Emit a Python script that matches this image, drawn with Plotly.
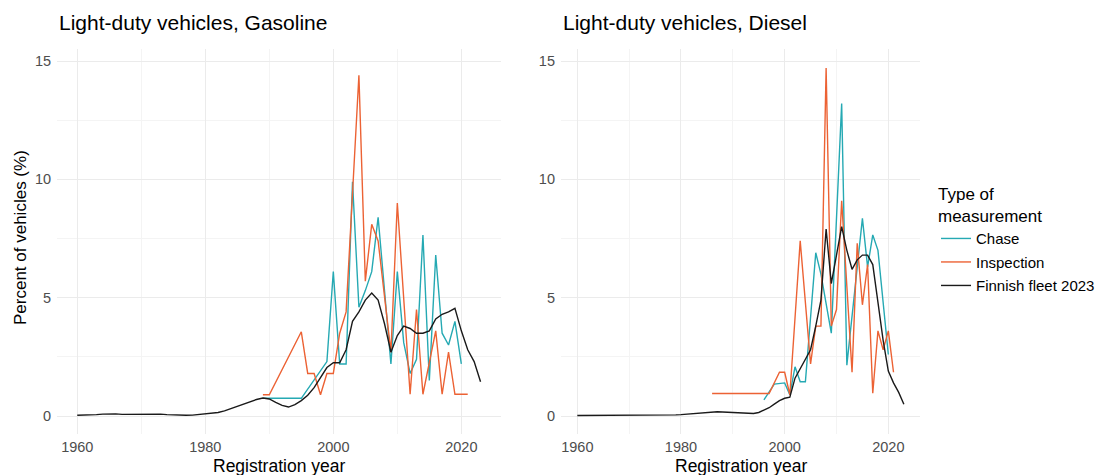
import plotly.graph_objects as go

# ---------------- data ----------------
fleet_years = list(range(1960, 2024))
gas_fleet = [0.03, 0.03, 0.04, 0.06, 0.08, 0.10, 0.09, 0.07, 0.07, 0.09,
             0.10, 0.09, 0.09, 0.08, 0.06, 0.04, 0.03, 0.03, 0.04, 0.06,
             0.08, 0.10, 0.15, 0.22, 0.32, 0.42, 0.52, 0.60, 0.70, 0.76,
             0.72, 0.58, 0.45, 0.38, 0.48, 0.65, 0.88, 1.20, 1.60, 2.05,
             2.25, 2.25, 2.80, 4.00, 4.40, 4.90, 5.20, 4.90, 3.90, 2.70,
             3.40, 3.80, 3.70, 3.50, 3.50, 3.60, 4.10, 4.30, 4.40, 4.55,
             3.60, 2.80, 2.30, 1.45]
dsl_fleet = [0.02, 0.02, 0.02, 0.02, 0.02, 0.02, 0.02, 0.02, 0.02, 0.02,
             0.02, 0.02, 0.02, 0.02, 0.03, 0.03, 0.03, 0.03, 0.04, 0.05,
             0.06, 0.08, 0.10, 0.12, 0.14, 0.16, 0.17, 0.18, 0.17, 0.16,
             0.14, 0.12, 0.10, 0.10, 0.11, 0.15, 0.25, 0.35, 0.50, 0.65,
             0.75, 0.80, 1.60, 2.00, 2.40, 2.80, 3.80, 4.90, 7.90, 5.60,
             6.80, 8.00, 7.00, 6.20, 6.60, 6.80, 6.80, 6.40, 4.80, 3.20,
             1.90, 1.40, 1.00, 0.50]

gas_chase_years = [1989, 1995, 1999, 2000, 2001, 2002, 2003, 2004, 2005, 2006, 2007,
                   2009, 2010, 2011, 2012, 2013, 2014, 2015, 2016, 2017, 2018, 2019, 2020]
gas_chase = [0.75, 0.75, 2.3, 6.1, 2.2, 2.2, 9.9, 4.6, 5.3, 6.1, 8.4,
             2.2, 6.1, 3.1, 1.8, 2.4, 7.65, 1.5, 6.8, 3.5, 3.0, 4.0, 2.2]

gas_insp_years = [1989, 1990, 1995, 1996, 1997, 1998, 1999, 2000, 2001, 2002, 2004, 2005,
                  2006, 2007, 2009, 2010, 2012, 2013, 2014, 2016, 2017, 2018, 2019, 2020, 2021]
gas_insp = [0.9, 0.9, 3.56, 1.8, 1.8, 0.9, 1.8, 1.8, 3.5, 4.4, 14.4, 5.7,
            8.1, 7.4, 2.7, 9.0, 0.92, 4.5, 0.92, 3.6, 0.92, 2.7, 0.92, 0.92, 0.92]

dsl_chase_years = [1996, 1998, 2000, 2001, 2002, 2003, 2004, 2006, 2007, 2009, 2011,
                   2012, 2015, 2016, 2017, 2018, 2020]
dsl_chase = [0.68, 1.35, 1.4, 0.9, 2.08, 1.45, 1.45, 6.9, 6.0, 3.5, 13.2,
             2.15, 8.35, 6.3, 7.65, 7.0, 2.6]

dsl_insp_years = [1986, 1997, 1999, 2000, 2001, 2003, 2005, 2006, 2007, 2008, 2009, 2010,
                  2011, 2013, 2014, 2015, 2016, 2017, 2018, 2019, 2020, 2021]
dsl_insp = [0.95, 0.95, 1.85, 1.85, 0.9, 7.4, 2.2, 3.8, 3.8, 14.7, 3.8, 4.5,
            9.1, 1.85, 7.3, 4.7, 6.4, 0.96, 3.6, 2.8, 3.6, 1.85]

panel_titles = ["Light-duty vehicles, Gasoline", "Light-duty vehicles, Diesel"]
series_names = ["Chase", "Inspection", "Finnish fleet 2023"]
x_ticks = [1960, 1980, 2000, 2020]
y_ticks = [0, 5, 10, 15]

# ---------------- style ----------------
TEAL = "#25A9B3"
ORANGE = "#EC6234"
BLACK = "#1A1A1A"
FONT = "Liberation Sans, Arial, sans-serif"
W, H = 1102, 475

fig = go.Figure()

panels = [
    ("x", "y", (gas_chase_years, gas_chase), (gas_insp_years, gas_insp), gas_fleet, True),
    ("x2", "y2", (dsl_chase_years, dsl_chase), (dsl_insp_years, dsl_insp), dsl_fleet, False),
]
for xa, ya, ch, ins, fl, show in panels:
    fig.add_trace(go.Scatter(x=ch[0], y=ch[1], mode="lines", name=series_names[0],
                             line=dict(color=TEAL, width=1.4), xaxis=xa, yaxis=ya,
                             showlegend=show, legendgroup="a"))
    fig.add_trace(go.Scatter(x=ins[0], y=ins[1], mode="lines", name=series_names[1],
                             line=dict(color=ORANGE, width=1.4), xaxis=xa, yaxis=ya,
                             showlegend=show, legendgroup="b"))
    fig.add_trace(go.Scatter(x=fleet_years, y=fl, mode="lines", name=series_names[2],
                             line=dict(color=BLACK, width=1.4), xaxis=xa, yaxis=ya,
                             showlegend=show, legendgroup="c"))

xr = [1956.85, 2026.15]
yr = [-0.738, 15.5]
ydom = [(H - 433.5) / H, (H - 49.2) / H]
xdom1 = [57.1 / W, 500.7 / W]
xdom2 = [561.0 / W, 920.2 / W]

common_x = dict(range=xr, tickvals=x_ticks, showgrid=True, gridcolor="#EBEBEB", gridwidth=1,
                zeroline=False, showline=False, ticks="", automargin=False,
                tickfont=dict(family=FONT, size=14.5, color="#4D4D4D"),
                minor=dict(tickvals=[1970, 1990, 2010], showgrid=True, gridcolor="#F4F4F4",
                           gridwidth=1),
                ticklabelstandoff=3)
common_y = dict(range=yr, tickvals=y_ticks, showgrid=True, gridcolor="#EBEBEB", gridwidth=1,
                zeroline=False, showline=False, ticks="", automargin=False,
                tickfont=dict(family=FONT, size=14.5, color="#4D4D4D"),
                minor=dict(tickvals=[2.5, 7.5, 12.5], showgrid=True, gridcolor="#F4F4F4",
                           gridwidth=1),
                ticklabelstandoff=5)

fig.update_layout(
    width=W, height=H,
    margin=dict(l=0, r=0, t=0, b=0),
    paper_bgcolor="white", plot_bgcolor="white",
    font=dict(family=FONT, color="black"),
    xaxis=dict(domain=xdom1, anchor="y", **common_x),
    yaxis=dict(domain=ydom, anchor="x", **common_y),
    xaxis2=dict(domain=xdom2, anchor="y2", **common_x),
    yaxis2=dict(domain=ydom, anchor="x2", **common_y),
    legend=dict(x=936 / W, y=1 - 178 / H, xanchor="left", yanchor="top",
                title=dict(text="Type of<br>measurement", font=dict(size=17, family=FONT)),
                font=dict(size=15, family=FONT), tracegroupgap=1,
                bgcolor="rgba(0,0,0,0)"),
    showlegend=True,
)

annos = [
    dict(text=panel_titles[0], x=57 / W, y=1 - 23 / H, xanchor="left", yanchor="middle",
         font=dict(size=21)),
    dict(text=panel_titles[1], x=561 / W, y=1 - 23 / H, xanchor="left", yanchor="middle",
         font=dict(size=21)),
    dict(text="Registration year", x=(xdom1[0] + xdom1[1]) / 2, y=1 - 466 / H,
         xanchor="center", yanchor="middle", font=dict(size=17.5)),
    dict(text="Registration year", x=(xdom2[0] + xdom2[1]) / 2, y=1 - 466 / H,
         xanchor="center", yanchor="middle", font=dict(size=17.5)),
    dict(text="Percent of vehicles (%)", x=20 / W, y=1 - 238 / H, textangle=-90,
         xanchor="center", yanchor="middle", font=dict(size=17)),
]
for a in annos:
    a.update(xref="paper", yref="paper", showarrow=False)
    a["font"]["family"] = FONT
    a["font"]["color"] = "black"
fig.update_layout(annotations=annos)

fig.write_html("out.html", config={"displayModeBar": False},
               post_script="document.body.style.margin='0';document.body.style.overflow='hidden';")
